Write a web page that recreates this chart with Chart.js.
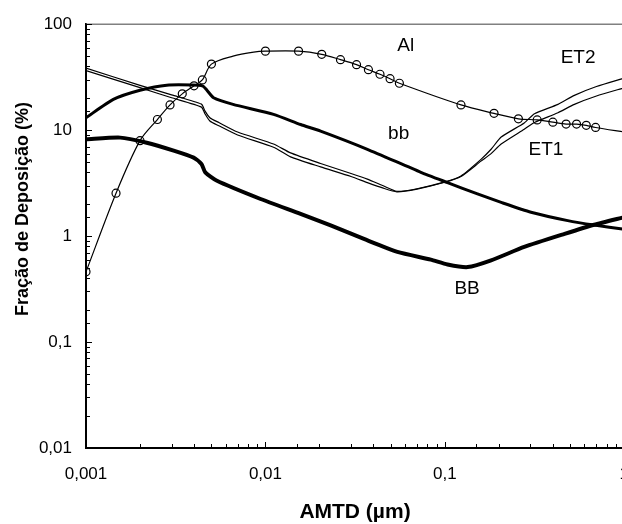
<!DOCTYPE html>
<html>
<head>
<meta charset="utf-8">
<script src="https://cdn.jsdelivr.net/npm/chart.js@4.4.0/dist/chart.umd.min.js"></script>
<style>
  html, body { margin: 0; padding: 0; overflow: hidden; background: #fff; }
  canvas { display: block; }
</style>
</head>
<body>
<canvas id="depChart" width="645" height="524"></canvas>
<script>
// Al (thin line with open circles)
const alX = [0.001, 0.00147, 0.002, 0.0025, 0.00294, 0.00344, 0.0040, 0.00445, 0.005, 0.0066, 0.0086, 0.01, 0.0153, 0.0206, 0.0262, 0.0322, 0.0375, 0.0435, 0.0495, 0.0558, 0.123, 0.188, 0.257, 0.327, 0.40, 0.474, 0.542, 0.614, 0.692, 1.0];
const alY = [0.46, 2.54, 7.96, 12.6, 17.3, 22, 26.2, 29.8, 42, 50, 54.6, 55.7, 55.7, 52, 46.3, 41.5, 37.2, 33.7, 30.6, 27.7, 17.3, 14.4, 12.8, 12.5, 11.9, 11.4, 11.4, 11.1, 10.6, 9.6];
const alMark = [1, 1, 1, 1, 1, 1, 1, 1, 1, 0, 0, 1, 1, 1, 1, 1, 1, 1, 1, 1, 1, 1, 1, 1, 1, 1, 1, 1, 1, 0];

// ET2 / ET1 (thin double lines)
const etX = [0.001, 0.002, 0.003, 0.0044, 0.0046, 0.0049, 0.0055, 0.007, 0.0111, 0.0138, 0.0203, 0.03, 0.037, 0.045, 0.054, 0.07, 0.1, 0.123, 0.159, 0.181, 0.206, 0.277, 0.316, 0.427, 0.527, 0.7, 1.0];
const et2Y = [38.5, 26.5, 21.5, 17.6, 15.2, 13.1, 11.8, 9.6, 7.4, 6.1, 4.85, 3.9, 3.45, 3.0, 2.65, 2.8, 3.25, 3.7, 5.3, 6.6, 8.6, 11.7, 14.3, 17.5, 21.3, 25.8, 31];
const et1Y = [36.5, 25.2, 20.2, 16.5, 14.3, 12.2, 11.0, 9.0, 6.9, 5.6, 4.5, 3.65, 3.2, 2.85, 2.62, 2.78, 3.22, 3.65, 5.1, 6.0, 7.4, 10.2, 11.8, 14.6, 17.5, 21, 25.1];

// bb (thick)
const bbX = [0.001, 0.00142, 0.002, 0.00282, 0.00424, 0.0045, 0.00472, 0.00514, 0.0066, 0.0111, 0.0157, 0.0203, 0.037, 0.0735, 0.1035, 0.152, 0.206, 0.302, 0.484, 0.68, 1.0];
const bbY = [13.1, 19.5, 23.8, 26.6, 26.6, 26, 23.8, 20.2, 17.5, 14.1, 11.3, 9.8, 6.6, 4.0, 3.2, 2.5, 2.08, 1.68, 1.40, 1.27, 1.16];

// BB (thickest)
const BBX = [0.001, 0.00155, 0.00218, 0.00308, 0.00398, 0.0044, 0.00462, 0.00537, 0.0094, 0.0157, 0.0231, 0.0354, 0.0544, 0.0835, 0.1035, 0.134, 0.181, 0.277, 0.465, 0.68, 1.0];
const BBY = [8.2, 8.5, 7.6, 6.4, 5.5, 4.8, 4.0, 3.33, 2.24, 1.62, 1.26, 0.94, 0.71, 0.60, 0.54, 0.51, 0.59, 0.79, 1.05, 1.28, 1.51];

// curve labels placed in data units
const labelText = ["Al", "ET2", "bb", "ET1", "BB"];
const labelX = [0.0605, 0.553, 0.0553, 0.366, 0.133];
const labelY = [62, 48, 9.3, 6.6, 0.32];

const xTitle = "AMTD (\u00b5m)";
const yTitle = "Fração de Deposição (%)";

function pts(xs, ys) {
  return xs.map((x, i) => ({ x: x, y: ys[i] }));
}

function isDecade(v) {
  const l = Math.log10(v);
  return Math.abs(l - Math.round(l)) < 1e-6;
}

function fmt(v) {
  if (!isDecade(v)) return "";
  return String(+v.toPrecision(3)).replace(".", ",");
}

const FONT = "'Liberation Sans', Arial, sans-serif";
Chart.defaults.font.family = FONT;
Chart.defaults.color = "#000";

const extras = {
  id: "extras",
  afterDraw(chart) {
    const ctx = chart.ctx;
    const area = chart.chartArea;
    const xs = chart.scales.x, ys = chart.scales.y;
    ctx.save();

    // top frame line (gray)
    ctx.strokeStyle = "#808080";
    ctx.lineWidth = 1.5;
    ctx.beginPath();
    ctx.moveTo(area.left, area.top);
    ctx.lineTo(area.right, area.top);
    ctx.stroke();

    // inside tick marks
    ctx.strokeStyle = "#000";
    ctx.lineWidth = 1;
    xs.ticks.forEach(t => {
      const px = Math.round(xs.getPixelForValue(t.value)) + 0.5;
      const len = isDecade(t.value) ? 6 : 4;
      ctx.beginPath();
      ctx.moveTo(px, area.bottom);
      ctx.lineTo(px, area.bottom - len);
      ctx.stroke();
    });
    ys.ticks.forEach(t => {
      const py = Math.round(ys.getPixelForValue(t.value)) + 0.5;
      const len = isDecade(t.value) ? 6 : 4;
      ctx.beginPath();
      ctx.moveTo(area.left, py);
      ctx.lineTo(area.left + len, py);
      ctx.stroke();
    });

    // curve labels
    ctx.fillStyle = "#000";
    ctx.font = "19px " + FONT;
    ctx.textAlign = "center";
    ctx.textBaseline = "middle";
    labelText.forEach((s, i) => {
      ctx.fillText(s, xs.getPixelForValue(labelX[i]), ys.getPixelForValue(labelY[i]));
    });

    // axis titles
    ctx.font = "bold 21px " + FONT;
    ctx.fillText(xTitle, 355, 512);
    ctx.translate(23, 209);
    ctx.rotate(-Math.PI / 2);
    ctx.font = "bold 18px " + FONT;
    ctx.fillText(yTitle, 0, 0);
    ctx.restore();
  }
};

new Chart(document.getElementById("depChart"), {
  type: "scatter",
  data: {
    datasets: [
      {
        label: "BB",
        data: pts(BBX, BBY),
        showLine: true,
        borderColor: "#000",
        borderWidth: 4,
        pointRadius: 0,
        tension: 0.2
      },
      {
        label: "bb",
        data: pts(bbX, bbY),
        showLine: true,
        borderColor: "#000",
        borderWidth: 3,
        pointRadius: 0,
        tension: 0.2
      },
      {
        label: "ET1",
        data: pts(etX, et1Y),
        showLine: true,
        borderColor: "#000",
        borderWidth: 1.2,
        pointRadius: 0,
        tension: 0.2
      },
      {
        label: "ET2",
        data: pts(etX, et2Y),
        showLine: true,
        borderColor: "#000",
        borderWidth: 1.2,
        pointRadius: 0,
        tension: 0.2
      },
      {
        label: "Al",
        data: pts(alX, alY),
        showLine: true,
        borderColor: "#000",
        borderWidth: 1.2,
        pointStyle: "circle",
        pointRadius: alMark.map(m => m ? 4 : 0),
        pointBorderWidth: 1.2,
        pointBorderColor: "#000",
        pointBackgroundColor: "rgba(0,0,0,0)",
        tension: 0.3
      }
    ]
  },
  options: {
    responsive: false,
    animation: false,
    devicePixelRatio: 1,
    layout: { padding: { left: 0, top: 19, right: 17, bottom: 0 } },
    plugins: {
      legend: { display: false },
      tooltip: { enabled: false }
    },
    scales: {
      x: {
        type: "logarithmic",
        position: "bottom",
        min: 0.001,
        max: 1,
        afterFit: s => { s.height = 76; },
        grid: { display: false, drawTicks: false },
        border: { display: true, color: "#000", width: 2 },
        ticks: {
          callback: v => fmt(v),
          autoSkip: false,
          maxRotation: 0,
          padding: 16,
          font: { size: 17 },
          color: "#000"
        }
      },
      y: {
        type: "logarithmic",
        position: "left",
        min: 0.01,
        max: 100,
        afterFit: s => { s.width = 86; },
        grid: { display: false, drawTicks: false },
        border: { display: true, color: "#000", width: 2 },
        ticks: {
          callback: v => fmt(v),
          autoSkip: false,
          padding: 14,
          font: { size: 17 },
          color: "#000"
        }
      }
    }
  },
  plugins: [extras]
});
</script>
</body>
</html>
